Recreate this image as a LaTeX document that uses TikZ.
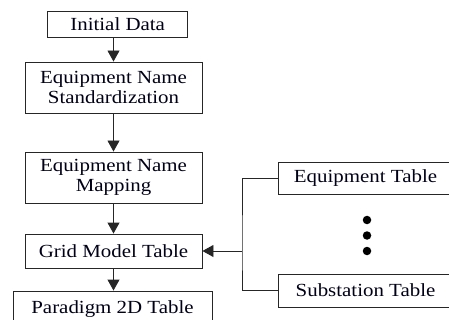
\documentclass[tikz,border=0pt]{standalone}
\usepackage{fontspec}
\setmainfont{Liberation Serif}[FakeStretch=1.13]
\usetikzlibrary{arrows.meta}
\begin{document}
\begin{tikzpicture}[x=1pt,y=-1pt,
  box/.style={draw=black!85,line width=0.9pt,inner sep=0pt,align=center,
    font=\fontsize{18.5}{20.5}\selectfont,text=black!85!blue!60!black},
  conn/.style={draw=black!85,line width=0.9pt},
  arr/.style={conn,-{Triangle[width=12pt,length=11pt]}},
  dot/.style={circle,fill=black,inner sep=0pt,minimum size=8.5pt}]
\useasboundingbox (0,0) rectangle (449,320);
\clip (0,0) rectangle (449,320);
\node[box,minimum width=140pt,minimum height=26pt] (init) at (117.7,24) {Initial Data};
\node[box,minimum width=177pt,minimum height=51pt] (std) at (113.5,87.5) {Equipment Name\\Standardization};
\node[box,minimum width=177pt,minimum height=51pt] (map) at (113.5,177.5) {Equipment Name\\Mapping};
\node[box,minimum width=177pt,minimum height=34pt] (grid) at (113.5,251) {Grid Model Table};
\node[box,minimum width=199pt,minimum height=36pt] (para) at (112.5,309) {Paradigm 2D Table};
\node[box,minimum width=175pt,minimum height=32pt] (eq) at (365.5,178) {Equipment Table};
\node[box,minimum width=175pt,minimum height=33pt] (sub) at (365.5,290.5) {Substation Table};
\node[dot] (d1) at (367,220) {};
\node[dot] (d2) at (367,235.5) {};
\node[dot] (d3) at (367,251) {};
\coordinate (j) at (242,251);
\draw[arr] (std.north |- init.south) -- (std.north);
\draw[arr] (std.south) -- (map.north);
\draw[arr] (map.south) -- (grid.north);
\draw[arr] (grid.south) -- (grid.south |- para.north);
\draw[conn] (eq.west) -| (j) |- (sub.west);
\draw[arr] (j) -- (grid.east);
\end{tikzpicture}
\end{document}
